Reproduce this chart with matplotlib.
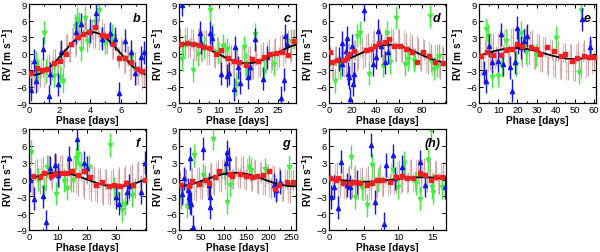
import numpy as np
import matplotlib
matplotlib.use("Agg")
import matplotlib.pyplot as plt
from matplotlib.ticker import AutoMinorLocator

plt.rcParams['font.family'] = ['Liberation Sans', 'DejaVu Sans']

# ---------------- data ----------------
labels = ["b", "c", "d", "e", "f", "g", "(h)"]
xmax = [7.65, 29.5, 100.5, 61.0, 40.5, 261.0, 16.9]
xticks = [[0, 2, 4, 6], [0, 5, 10, 15, 20, 25], [0, 20, 40, 60, 80],
          [0, 10, 20, 30, 40, 50, 60], [0, 10, 20, 30], [0, 50, 100, 150, 200, 250],
          [0, 5, 10, 15]]
# model curve parameters: semi-amplitude, period, phase of maximum
curve_K = [3.9, 1.8, 1.6, 1.0, 1.25, 1.2, 0.4]
curve_P = [7.6, 29.5, 100.0, 61.0, 40.5, 261.0, 16.8]
curve_tmax = [4.1, 2.3, 52.0, 19.0, 10.0, 125.0, 13.5]

# binned (red squares)
red_x = [
    [0.15, 0.53, 0.86, 1.2, 1.62, 2.0, 2.4, 2.76, 3.18, 3.55, 3.9, 4.3, 4.75, 5.1, 5.5, 5.9, 6.3, 6.7, 7.06, 7.4],
    [0.4, 2.1, 3.6, 5.1, 6.4, 7.8, 9.3, 10.7, 12.4, 13.8, 15.2, 16.9, 18.3, 20.0, 21.5, 22.9, 24.5, 26.0, 27.4, 28.9],
    [0.6, 2.3, 7.0, 12.0, 15.8, 17.2, 21.5, 31.6, 36.0, 39.4, 43.0, 47.7, 51.7, 56.0, 61.0, 66.0, 71.0, 76.0, 81.0, 86.0, 91.0, 97.7],
    [1.2, 4.3, 7.3, 11.3, 14.2, 17.0, 19.6, 22.2, 26.9, 29.8, 32.0, 35.2, 39.0, 42.5, 44.7, 48.5, 51.1, 54.6, 57.5, 59.8],
    [1.3, 3.8, 5.3, 7.6, 9.1, 11.4, 13.3, 15.0, 17.0, 19.0, 21.1, 23.3, 25.4, 27.7, 29.4, 31.4, 33.6, 36.0, 40.0],
    [3, 22, 30, 44, 57, 68, 81, 90, 113, 118, 135, 150, 162, 174, 187, 200, 214, 224, 241, 255],
    [0.1, 0.95, 1.3, 2.0, 3.0, 3.8, 4.5, 5.5, 6.2, 6.9, 7.6, 8.8, 9.7, 10.6, 11.3, 12.2, 13.1, 13.8, 14.7, 15.5, 16.3],
]
red_y = [
    [-3.56, -2.65, -2.96, -2.84, -1.75, -1.4, 0.0, 1.7, 3.0, 3.5, 4.0, 4.9, 3.4, 3.2, 1.75, -0.9, -0.9, -1.6, -2.84, -3.1],
    [1.8, 2.0, 1.7, 1.6, 1.2, 1.0, 0.0, 0.6, -0.9, -1.3, -1.6, -2.05, -1.0, -1.3, -0.7, -0.1, 0.06, 0.36, -0.3, 2.3],
    [0.2, -1.5, -1.1, -1.1, -0.9, -0.1, 0.5, 0.66, 0.9, 1.4, 1.9, 2.1, 2.7, 1.4, 1.3, 0.9, 0.3, -1.5, 0.3, -0.4, -1.5, -1.7],
    [-0.5, 0.2, -0.3, -0.3, 0.6, 0.9, 1.7, 1.4, 1.2, 0.9, -0.1, 1.2, 0.5, -0.4, 0.0, -1.3, -0.8, -0.4, -0.6, -0.7],
    [0.6, 0.5, 1.1, 0.6, 0.9, 1.2, 1.1, 1.5, 0.8, 1.5, 0.4, -1.0, -0.5, -1.2, -1.0, -1.2, -0.7, -1.0, 0.0],
    [-1.0, -1.2, -0.2, -0.8, -0.1, -0.6, 0.5, 1.6, 0.9, 0.6, 0.9, 0.6, 0.5, 0.6, 0.8, 1.5, -1.7, -1.0, -0.5, -0.5],
    [0.2, 0.0, 0.2, -0.7, -0.6, -0.4, -0.6, -0.9, -0.7, 0.0, 0.0, -0.4, 0.5, 0.6, 0.2, 0.2, 1.2, 0.8, -0.1, 0.5, 0.5],
]

# blue (up triangles)
blue_x = [
    [0.15, 0.3, 0.44, 0.92, 1.3, 1.4, 1.9, 2.1, 3.1, 3.4, 4.0, 4.4, 4.76, 5.3, 5.6, 5.9, 6.3, 6.7, 6.95, 7.3, 7.5],
    [0.85, 5.2, 5.5, 7.8, 8.4, 10.7, 11.98, 12.7, 13.8, 14.2, 14.8, 15.4, 17.5, 17.9, 19.2, 21.1, 22.1, 25.7, 26.6, 26.8, 27.3],
    [8.6, 10.9, 11.5, 14.4, 15.2, 16.4, 17.2, 18.1, 19.5, 20.7, 21.6, 30.2, 37.9, 40.2, 42.2, 44.5, 48.3, 50.3],
    [2.6, 3.8, 5.2, 6.6, 9.9, 11.3, 12.7, 16.1, 17.0, 18.7, 19.6, 20.5, 21.7, 23.4, 24.8, 53.7, 58.0],
    [0.3, 1.8, 4.7, 5.9, 7.4, 9.0, 9.9, 13.9, 16.6, 19.1, 20.2, 30.0, 31.1, 34.0, 34.6, 38.6, 40.0],
    [7.4, 10.4, 20, 22.3, 23.7, 25.2, 27.4, 31, 53.4, 66.8, 68.2, 69.7, 104, 107, 111, 213, 217, 226],
    [0.24, 0.7, 1.3, 1.8, 2.6, 3.0, 4.0, 6.0, 6.7, 7.9, 8.3, 9.3, 9.5, 10.5, 13.1, 13.8, 16.7],
]
blue_y = [
    [-6.6, -1.3, -5.0, 0.9, -7.8, -3.7, -5.6, 0.3, 3.9, 5.3, 4.1, 7.3, 2.7, 3.7, 2.7, -7.2, 2.3, 0.3, -3.6, -0.7, 0.2],
    [8.9, 3.8, 2.0, 3.8, 2.9, -3.7, -4.0, -3.6, -6.5, 1.1, -2.5, -5.3, -4.3, -2.5, 2.6, -4.6, -0.7, -8.0, -4.8, 3.2, 1.7],
    [-1.0, 2.0, -1.9, 0.5, 2.9, -3.7, -4.3, -8.3, 1.4, -5.6, -3.7, 8.0, -1.9, -0.7, 4.1, 1.4, -1.6, 0.2],
    [-3.4, -5.0, 1.4, -1.5, -1.3, 3.5, -1.9, -2.5, -6.8, -1.6, 4.7, 2.0, 1.1, 2.3, 3.2, 6.2, 1.1],
    [-0.1, -3.4, -3.0, -7.6, 2.0, 2.6, 0.8, 3.8, 7.3, 3.0, 2.0, -3.1, -4.3, -2.2, -1.2, -2.2, 3.0],
    [-2.5, 0.2, -1.9, -3.1, 3.75, -4.0, -4.3, -8.5, 5.5, -1.0, -4.9, -3.1, 2.9, 4.9, 3.75, -1.0, -1.9, -0.4],
    [-3.1, -1.3, -5.0, 3.2, -1.0, -1.3, -0.4, 6.1, -4.0, -7.9, 2.6, 4.3, 0.2, 2.3, 3.2, -1.0, -1.3],
]

# green (down triangles)
green_x = [
    [0.48, 0.6, 0.96, 1.14, 1.64, 2.0, 2.2, 3.0, 3.15, 3.3, 3.4, 3.66, 3.8, 4.3, 4.6, 5.0, 5.4, 6.7],
    [0.7, 1.5, 3.5, 4.9, 6.3, 7.8, 8.4, 9.9, 11.1, 12.2, 14.3, 16.5, 16.9, 19.2, 21.5, 24.0, 28.3],
    [5.2, 9.2, 24.4, 26.4, 34.5, 46.0, 49.4, 52.3, 57.5, 65.5, 67.5, 73.3, 86.8, 87.6, 90.5, 92.5, 94.8],
    [3.5, 4.9, 6.9, 10.0, 12.1, 13.9, 19.1, 21.7, 23.4, 24.6, 29.5, 39.9, 52.0, 53.4],
    [0.7, 3.0, 5.3, 6.4, 9.3, 12.2, 13.3, 15.1, 16.2, 17.0, 17.9, 20.8, 28.0, 29.4, 30.6, 32.3, 33.4, 35.7],
    [3.7, 17.8, 33.4, 53.4, 75.7, 101.6, 107, 113, 157, 161, 191, 246],
    [3.2, 3.8, 4.8, 5.5, 6.2, 7.1, 9.2, 10.0, 10.9, 12.6, 13.1, 14.3, 14.7, 14.9, 15.0, 16.3],
]
green_y = [
    [-1.6, -3.1, 3.8, -3.1, -4.0, -4.2, -5.0, 5.0, 6.3, 5.5, 0.8, 6.5, 2.3, 5.7, 8.0, 2.0, 3.2, -0.7],
    [-1.0, 1.5, -3.0, -0.1, 1.1, 8.0, 3.2, 0.2, 1.4, 0.8, -5.6, 1.1, -1.9, 3.5, -3.1, -1.9, 2.3],
    [-5.0, -2.5, 3.2, 3.8, -3.7, -2.2, 3.8, -1.6, 6.5, -1.9, -1.0, -1.3, 6.8, -1.3, -2.8, -2.2, -0.4],
    [4.4, 3.2, -4.2, -4.0, -2.2, 2.3, -1.9, 3.8, 2.6, 0.2, -0.4, 2.9, -3.4, 8.0],
    [4.9, 0.0, -1.6, 2.3, -2.5, -0.2, -1.6, -0.1, 3.75, 4.6, 2.6, 2.3, 6.1, -1.6, -2.5, -5.5, -4.3, -2.8],
    [-3.1, -4.8, 4.3, 0.8, 7.3, 1.1, -4.0, -1.0, 2.3, 1.7, 1.8, 2.3],
    [4.0, -3.1, -1.6, -4.6, 2.6, -0.1, 1.7, -1.3, 2.9, -0.7, -3.4, 3.5, 8.8, -1.3, -2.2, -1.3],
]

# brown (dense individual measurements), two interleaved groups
brown_x = [
    [0.1, 0.3, 0.5, 0.7, 0.9, 1.1, 1.3, 1.5, 1.7, 1.9, 2.1, 2.3, 2.5, 2.7, 2.9, 3.1, 3.3, 3.5, 3.7, 3.9,
     4.1, 4.3, 4.5, 4.7, 4.9, 5.1, 5.3, 5.5, 5.7, 5.9, 6.1, 6.3, 6.5, 6.7, 6.9, 7.1, 7.3, 7.5],
    [0.3, 1.1, 1.9, 2.7, 3.5, 4.3, 5.1, 5.9, 6.7, 7.5, 8.3, 9.1, 9.9, 10.7, 11.5, 12.3, 13.1, 13.9, 14.7,
     15.5, 16.3, 17.1, 17.9, 18.7, 19.5, 20.3, 21.1, 21.9, 22.7, 23.5, 24.3, 25.1, 25.9, 26.7, 27.5, 28.3, 29.1],
    [1, 3.7, 6.4, 9.1, 11.8, 14.5, 17.2, 19.9, 22.6, 25.3, 28, 30.7, 33.4, 36.1, 38.8, 41.5, 44.2, 46.9, 49.6,
     52.3, 55, 57.7, 60.4, 63.1, 65.8, 68.5, 71.2, 73.9, 76.6, 79.3, 82, 84.7, 87.4, 90.1, 92.8, 95.5, 98.2],
    [0.5, 2.2, 3.9, 5.6, 7.3, 9, 10.7, 12.4, 14.1, 15.8, 17.5, 19.2, 20.9, 22.6, 24.3, 26, 27.7, 29.4,
     31.1, 32.8, 34.5, 36.2, 37.9, 39.6, 41.3, 43, 44.7, 46.4, 48.1, 49.8, 51.5, 53.2, 54.9, 56.6, 58.3, 60],
    [0.4, 1.5, 2.6, 3.7, 4.8, 5.9, 7, 8.1, 9.2, 10.3, 11.4, 12.5, 13.6, 14.7, 15.8, 16.9, 18, 19.1, 20.2,
     21.3, 22.4, 23.5, 24.6, 25.7, 26.8, 27.9, 29, 30.1, 31.2, 32.3, 33.4, 34.5, 35.6, 36.7, 37.8, 38.9, 40],
    [2, 9, 16, 23, 30, 37, 44, 51, 58, 65, 72, 79, 86, 93, 100, 107, 114, 121, 128, 135, 142, 149, 156,
     163, 170, 177, 184, 191, 198, 205, 212, 219, 226, 233, 240, 247, 254],
    [0.2, 0.65, 1.1, 1.55, 2, 2.45, 2.9, 3.35, 3.8, 4.25, 4.7, 5.15, 5.6, 6.05, 6.5, 6.95, 7.4, 7.85, 8.3,
     8.75, 9.2, 9.65, 10.1, 10.55, 11, 11.45, 11.9, 12.35, 12.8, 13.25, 13.7, 14.15, 14.6, 15.05, 15.5, 15.95, 16.4],
]
brown_y = [
    [-3.0, -4.5, -2.8, -4.2, -2.5, -3.8, -1.8, -3.0, -1.0, -2.2, 0.5, -0.8, 1.8, 0.2, 2.9, 1.6, 4.0, 2.6, 4.6, 3.0,
     4.5, 2.8, 4.8, 3.0, 3.8, 1.8, 2.9, 0.8, 2.0, -0.8, 0.6, -1.8, -0.4, -2.8, -1.6, -3.9, -2.4, -4.2],
    [2.8, 0.6, 3.1, 1.0, 2.6, 0.4, 2.9, 0.5, 2.4, -0.3, 1.9, -0.8, 1.2, -1.3, 0.4, -2.2, -0.3, -2.8, -0.6,
     -3.1, -0.5, -2.9, -0.4, -2.9, -0.2, -2.5, 0.3, -1.8, 0.9, -1.2, 1.0, -0.6, 1.8, 0.1, 2.4, 0.5, 2.6],
    [-0.5, -2.6, -0.4, -2.5, -0.3, -2.2, 0.2, -1.8, 0.6, -1.1, 1.2, -0.6, 1.9, 0.2, 2.4, 0.4, 2.8, 0.6, 2.9,
     0.5, 2.7, 0.3, 2.6, 0.2, 2.0, -0.3, 1.6, -0.8, 1.0, -1.4, 0.6, -2.0, -0.1, -2.5, -0.2, -2.9, -0.6],
    [1.0, -1.8, 1.6, -1.2, 2.0, -0.5, 2.4, -0.2, 2.6, 0.0, 3.0, -0.4, 2.8, -0.6, 3.2, -0.2, 2.4, -1.0,
     1.8, -1.6, 1.2, -2.2, 0.6, -2.6, 0.4, -2.8, 0.2, -3.0, 0.0, -3.2, 0.3, -2.6, 0.6, -2.2, 0.8, -1.6],
    [1.5, -1.2, 1.9, -0.8, 2.4, -0.2, 2.6, 0.0, 2.8, 0.2, 2.6, -0.3, 2.4, -0.5, 2.0, -1.2, 1.5, -1.6, 1.0,
     -2.1, 0.6, -2.4, 0.3, -2.7, 0.1, -2.8, 0.2, -2.6, 0.4, -2.4, 0.6, -2.0, 1.0, -1.5, 1.5, -1.0, 2.0],
    [-0.2, -2.4, 0.0, -2.3, 0.2, -2.0, 0.4, -1.7, 0.8, -1.3, 1.2, -0.9, 1.6, -0.4, 1.9, 0.0, 2.2, 0.1, 2.4,
     0.2, 2.3, 0.0, 2.1, -0.3, 1.7, -0.7, 1.4, -1.0, 1.0, -1.5, 0.6, -1.9, 0.3, -2.1, 0.1, -2.3, 0.0],
    [1.0, -0.9, 1.3, -1.3, 0.6, -1.6, 0.8, -1.5, 0.7, -1.7, 0.5, -1.8, 0.6, -1.6, 0.9, -1.4, 1.0, -1.2, 1.2,
     -0.8, 1.5, -0.6, 1.6, -0.4, 1.8, -0.5, 1.9, -0.3, 1.8, -0.4, 2.0, -0.5, 1.7, -0.6, 1.5, -0.7, 1.3],
]
brown2_x = [
    [0.2, 0.4, 0.6, 0.8, 1.0, 1.2, 1.4, 1.6, 1.8, 2.0, 2.2, 2.4, 2.6, 2.8, 3.0, 3.2, 3.4, 3.6, 3.8,
     4.0, 4.2, 4.4, 4.6, 4.8, 5.0, 5.2, 5.4, 5.6, 5.8, 6.0, 6.2, 6.4, 6.6, 6.8, 7.0, 7.2, 7.4],
    [0.7, 1.5, 2.3, 3.1, 3.9, 4.7, 5.5, 6.3, 7.1, 7.9, 8.7, 9.5, 10.3, 11.1, 11.9, 12.7, 13.5, 14.3,
     15.1, 15.9, 16.7, 17.5, 18.3, 19.1, 19.9, 20.7, 21.5, 22.3, 23.1, 23.9, 24.7, 25.5, 26.3, 27.1, 27.9, 28.7],
    [2.3, 5, 7.7, 10.4, 13.1, 15.8, 18.5, 21.2, 23.9, 26.6, 29.3, 32, 34.7, 37.4, 40.1, 42.8, 45.5, 48.2,
     50.9, 53.6, 56.3, 59, 61.7, 64.4, 67.1, 69.8, 72.5, 75.2, 77.9, 80.6, 83.3, 86, 88.7, 91.4, 94.1, 96.8],
    [1.3, 3, 4.7, 6.4, 8.1, 9.8, 11.5, 13.2, 14.9, 16.6, 18.3, 20, 21.7, 23.4, 25.1, 26.8, 28.5, 30.2,
     31.9, 33.6, 35.3, 37, 38.7, 40.4, 42.1, 43.8, 45.5, 47.2, 48.9, 50.6, 52.3, 54, 55.7, 57.4, 59.1],
    [0.95, 2.05, 3.15, 4.25, 5.35, 6.45, 7.55, 8.65, 9.75, 10.85, 11.95, 13.05, 14.15, 15.25, 16.35,
     17.45, 18.55, 19.65, 20.75, 21.85, 22.95, 24.05, 25.15, 26.25, 27.35, 28.45, 29.55, 30.65, 31.75,
     32.85, 33.95, 35.05, 36.15, 37.25, 38.35, 39.45],
    [5.5, 12.5, 19.5, 26.5, 33.5, 40.5, 47.5, 54.5, 61.5, 68.5, 75.5, 82.5, 89.5, 96.5, 103.5, 110.5,
     117.5, 124.5, 131.5, 138.5, 145.5, 152.5, 159.5, 166.5, 173.5, 180.5, 187.5, 194.5, 201.5, 208.5,
     215.5, 222.5, 229.5, 236.5, 243.5, 250.5],
    [0.43, 0.88, 1.33, 1.78, 2.23, 2.68, 3.13, 3.58, 4.03, 4.48, 4.93, 5.38, 5.83, 6.28, 6.73, 7.18,
     7.63, 8.08, 8.53, 8.98, 9.43, 9.88, 10.33, 10.78, 11.23, 11.68, 12.13, 12.58, 13.03, 13.48, 13.93,
     14.38, 14.83, 15.28, 15.73, 16.18],
]
brown2_y = [
    [-4.8, -3.0, -5.0, -2.6, -4.4, -2.0, -3.5, -0.9, -2.5, 0.4, -1.2, 1.8, 0.2, 3.0, 1.2, 4.0, 2.2, 4.8,
     2.7, 5.0, 2.8, 4.9, 2.5, 4.4, 1.8, 3.5, 0.8, 2.5, -0.5, 1.2, -1.8, -0.2, -3.0, -1.3, -4.0, -2.2, -4.8],
    [0.5, 3.0, 0.9, 2.9, 0.6, 2.8, 0.3, 2.4, -0.2, 2.0, -0.6, 1.4, -1.3, 0.8, -1.9, 0.2, -2.6, -0.3,
     -2.9, -0.6, -3.0, -0.5, -2.9, -0.4, -2.7, -0.1, -2.3, 0.4, -1.7, 0.9, -1.2, 1.6, -0.5, 2.2, 0.0, 2.7],
    [-2.9, -0.4, -2.8, -0.2, -2.5, 0.1, -2.2, 0.6, -1.6, 1.2, -1.0, 1.7, -0.5, 2.3, 0.0, 2.6, 0.3, 2.9,
     0.5, 3.0, 0.4, 2.8, 0.2, 2.5, -0.2, 2.1, -0.7, 1.6, -1.2, 1.0, -1.7, 0.5, -2.2, -0.1, -2.6, -0.3],
    [-2.2, 0.9, -1.5, 1.6, -1.0, 2.0, -0.6, 2.6, -0.4, 2.9, -0.2, 3.0, -0.3, 2.7, -0.6, 2.3, -1.0, 1.8,
     -1.5, 1.4, -2.0, 0.9, -2.5, 0.5, -2.8, 0.2, -3.1, -0.1, -3.2, 0.0, -2.9, 0.2, -2.6, 0.5, -2.0],
    [-1.0, 1.6, -0.5, 2.1, 0.0, 2.5, 0.2, 2.8, 0.3, 2.6, 0.2, 2.5, -0.1, 2.1, -0.6, 1.7, -1.1, 1.2,
     -1.6, 0.7, -2.0, 0.3, -2.4, 0.0, -2.6, -0.1, -2.7, 0.1, -2.5, 0.3, -2.2, 0.7, -1.6, 1.2, -1.1, 1.7],
    [-2.3, 0.0, -2.2, 0.1, -1.9, 0.3, -1.6, 0.7, -1.2, 1.1, -0.8, 1.5, -0.3, 1.9, 0.0, 2.2, 0.1, 2.3,
     0.2, 2.3, 0.1, 2.1, -0.2, 1.8, -0.6, 1.4, -0.9, 1.1, -1.3, 0.7, -1.7, 0.4, -2.0, 0.1, -2.3, -0.1],
    [-1.2, 1.1, -1.5, 0.8, -1.7, 0.4, -1.9, 0.5, -1.9, 0.3, -2.0, 0.2, -1.8, 0.4, -1.6, 0.6, -1.4, 0.9,
     -1.1, 1.2, -0.9, 1.4, -0.7, 1.6, -0.6, 1.7, -0.5, 1.8, -0.4, 1.9, -0.3, 1.8, -0.5, 1.6, -0.7, 1.4],
]

err_blue = 2.1
err_green = 2.1
err_brown = 1.8
err_red = 0.35

# ---------------- layout ----------------
fig = plt.figure(figsize=(6.0, 2.53), dpi=100)
W, H = 600.0, 253.0
lefts = [29, 179, 329, 479, 29, 179, 329]
tops = [5, 5, 5, 5, 130, 130, 130]
bottoms = [104, 104, 104, 104, 231, 231, 231]
aw = 117

BLUE = '#1414f0'
GREEN = '#3cf03c'
RED = '#f02020'
BROWN = '#c4a0a0'
PINK = '#e2bcbc'

for i in range(7):
    ax = fig.add_axes([lefts[i] / W, 1 - bottoms[i] / H, aw / W, (bottoms[i] - tops[i]) / H])
    ax.errorbar(brown2_x[i], brown2_y[i], yerr=err_brown, fmt='+', ms=2.0, color=PINK,
                ecolor=PINK, elinewidth=0.9, mew=0.6, zorder=1)
    ax.errorbar(brown_x[i], brown_y[i], yerr=err_brown, fmt='+', ms=2.0, color=BROWN,
                ecolor=BROWN, elinewidth=0.8, mew=0.6, zorder=1)
    ax.errorbar(green_x[i], green_y[i], yerr=err_green, fmt='v', ms=3.0, color=GREEN,
                ecolor=GREEN, elinewidth=1.0, mec=GREEN, zorder=2)
    ax.errorbar(blue_x[i], blue_y[i], yerr=err_blue, fmt='^', ms=3.0, color=BLUE,
                ecolor=BLUE, elinewidth=1.0, mec=BLUE, zorder=3)
    xc = np.linspace(0, xmax[i], 300)
    yc = curve_K[i] * np.cos(2 * np.pi * (xc - curve_tmax[i]) / curve_P[i])
    ax.plot(xc, yc, color='black', lw=1.3, zorder=4)
    ax.errorbar(red_x[i], red_y[i], yerr=err_red, fmt='s', ms=3.5, color=RED,
                ecolor=RED, elinewidth=0.9, mec=RED, zorder=5)
    ax.set_xlim(0, xmax[i])
    ax.set_ylim(-9, 9)
    ax.set_yticks([-9, -6, -3, 0, 3, 6, 9])
    ax.set_xticks(xticks[i])
    ax.xaxis.set_minor_locator(AutoMinorLocator(2))
    ax.tick_params(which='both', direction='in', top=True, right=True, width=0.7)
    ax.tick_params(which='major', labelsize=6.8, length=2.8, pad=1.5)
    ax.tick_params(which='minor', length=1.6)
    for s in ax.spines.values():
        s.set_linewidth(0.9)
    ax.set_xlabel('Phase [days]', fontsize=7.3, fontweight='bold', labelpad=0.5)
    ax.set_ylabel('RV [m s$^{\\mathbf{-1}}$]', fontsize=7.3, fontweight='bold', labelpad=0.0)
    ax.text(0.95, 0.86, labels[i], transform=ax.transAxes, ha='right', va='center',
            fontsize=9, fontweight='bold', fontstyle='italic')

fig.savefig('out.png', dpi=100)
